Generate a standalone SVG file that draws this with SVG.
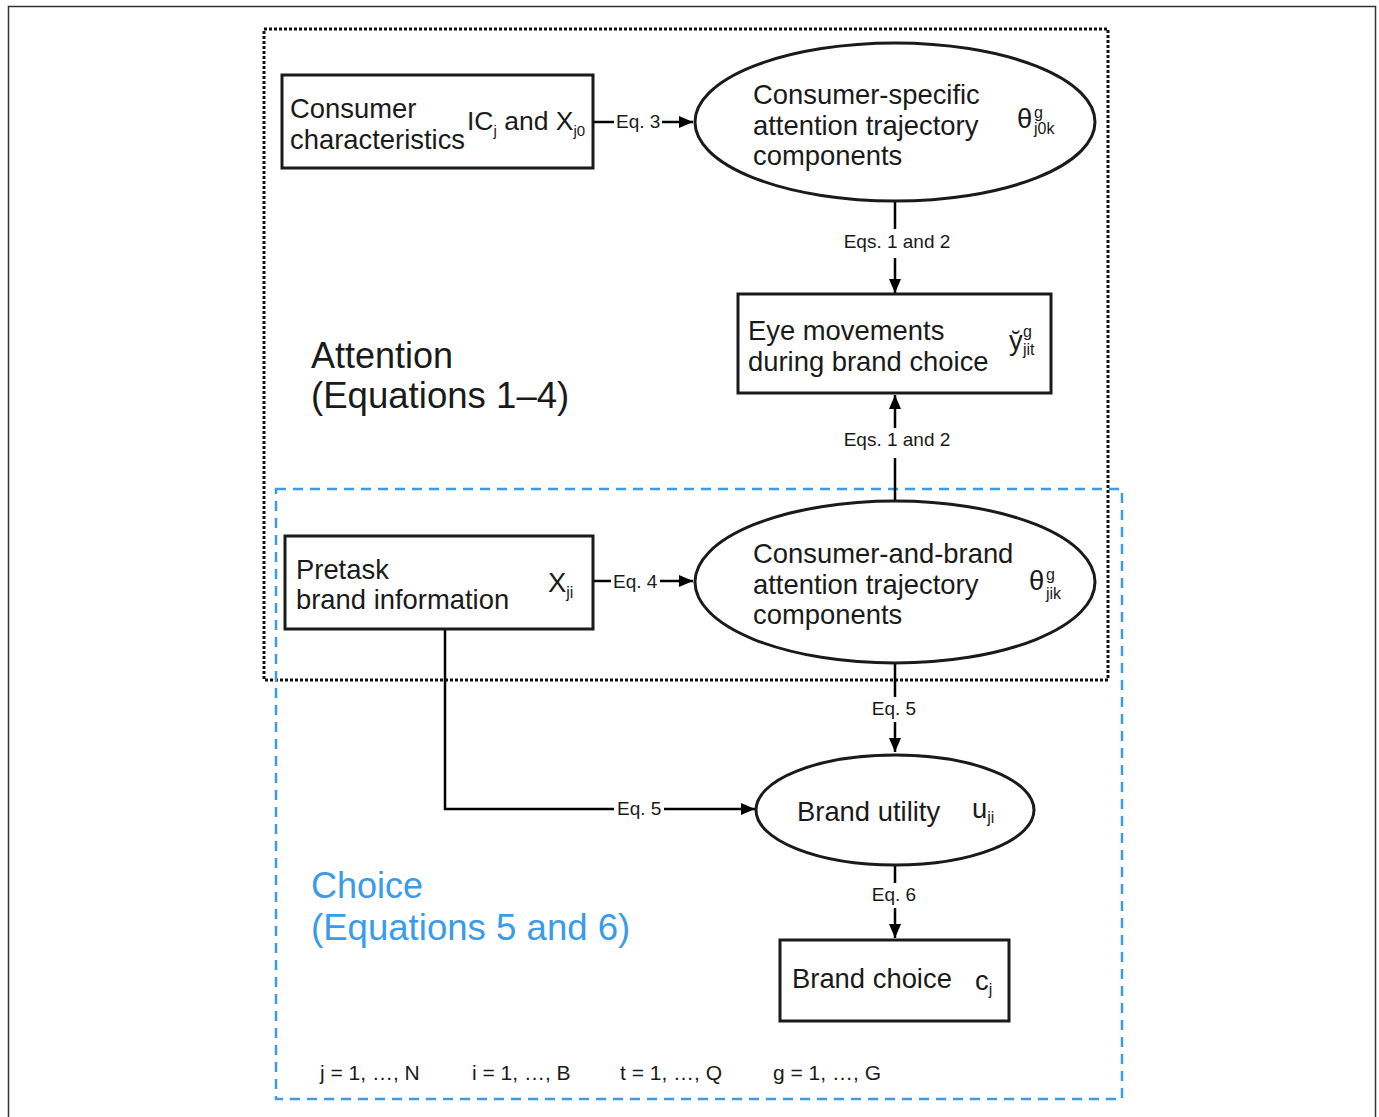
<svg xmlns="http://www.w3.org/2000/svg" width="1379" height="1117" viewBox="0 0 1379 1117">
<style>
text{font-family:"Liberation Sans",Arial,sans-serif;fill:#1a1a1a}
.n{font-size:27.4px}
.sub{font-size:16px}
.eq{font-size:19px}
.node{fill:#fff;stroke:#1a1a1a;stroke-width:3}
.conn{fill:none;stroke:#000;stroke-width:2.5}
.blue{fill:#3a9be9}
</style>
<defs>
<marker id="ah" viewBox="0 0 14 12" refX="14" refY="6" markerWidth="14" markerHeight="12" markerUnits="userSpaceOnUse" orient="auto">
<path d="M0,0 L14,6 L0,12 z" fill="#000"/>
</marker>
</defs>
<rect x="0" y="0" width="1379" height="1117" fill="#fff"/>
<rect id="frame" x="8.5" y="6.5" width="1367" height="1130" fill="none" stroke="#333" stroke-width="1.5"/>
<rect id="attention-region" x="264" y="29" width="844" height="651" fill="none" stroke="#111" stroke-width="3" stroke-dasharray="3 2"/>
<rect id="choice-region" x="276" y="489" width="846" height="610" fill="none" stroke="#3a9be9" stroke-width="2.5" stroke-dasharray="10 7"/>

<g id="connectors">
<path class="conn" d="M593,122 H614 M662,122 H693" marker-end="url(#ah)"/>
<text class="eq" x="616" y="128">Eq. 3</text>
<path class="conn" d="M895,202 V229 M895,258 V293" marker-end="url(#ah)"/>
<text class="eq" x="897" y="248" text-anchor="middle">Eqs. 1 and 2</text>
<path class="conn" d="M895,500 V458 M895,428 V395" marker-end="url(#ah)"/>
<text class="eq" x="897" y="446" text-anchor="middle">Eqs. 1 and 2</text>
<path class="conn" d="M593,581 H611 M660,581 H693" marker-end="url(#ah)"/>
<text class="eq" x="613" y="588">Eq. 4</text>
<path class="conn" d="M895,663 V697 M895,722 V752" marker-end="url(#ah)"/>
<text class="eq" x="894" y="715" text-anchor="middle">Eq. 5</text>
<path class="conn" d="M445,629 V809 H614 M664,809 H755" marker-end="url(#ah)"/>
<text class="eq" x="617" y="815">Eq. 5</text>
<path class="conn" d="M895,865 V883 M895,908 V938" marker-end="url(#ah)"/>
<text class="eq" x="894" y="901" text-anchor="middle">Eq. 6</text>
</g>

<g id="consumer-characteristics">
<rect class="node" x="282" y="75" width="311" height="93"/>
<text class="n" x="290" y="118">Consumer</text>
<text class="n" x="290" y="149">characteristics</text>
<text x="467" y="130" font-size="26.5">IC<tspan font-size="15" dy="6">j</tspan><tspan dy="-6"> and X</tspan><tspan font-size="15" dy="6">j0</tspan></text>
</g>

<g id="consumer-specific">
<ellipse class="node" cx="895" cy="122" rx="200" ry="79"/>
<text class="n" x="753" y="104">Consumer-specific</text>
<text class="n" x="753" y="135">attention trajectory</text>
<text class="n" x="753" y="165">components</text>
<text class="n" x="1017" y="128">θ</text>
<text class="sub" x="1034" y="118">g</text>
<text class="sub" x="1034" y="134">j0k</text>
</g>

<g id="eye-movements">
<rect class="node" x="738" y="294" width="313" height="99"/>
<text class="n" x="748" y="340">Eye movements</text>
<text class="n" x="748" y="371">during brand choice</text>
<text class="n" x="1009" y="350">y̆</text>
<text class="sub" x="1023" y="337">g</text>
<text class="sub" x="1023" y="355">jit</text>
</g>

<g id="attention-label">
<text x="311" y="368" font-size="36">Attention</text>
<text x="311" y="408" font-size="36.6">(Equations 1–4)</text>
</g>

<g id="pretask">
<rect class="node" x="285" y="536" width="308" height="93"/>
<text class="n" x="296" y="579">Pretask</text>
<text class="n" x="296" y="609">brand information</text>
<text class="n" x="548" y="592">X<tspan class="sub" dy="6">ji</tspan></text>
</g>

<g id="consumer-and-brand">
<ellipse class="node" cx="895" cy="582" rx="200" ry="81"/>
<text class="n" x="753" y="563">Consumer-and-brand</text>
<text class="n" x="753" y="594">attention trajectory</text>
<text class="n" x="753" y="624">components</text>
<text class="n" x="1029" y="590">θ</text>
<text class="sub" x="1046" y="580">g</text>
<text class="sub" x="1046" y="599">jik</text>
</g>

<g id="brand-utility">
<ellipse class="node" cx="895" cy="810" rx="139" ry="55"/>
<text class="n" x="797" y="821">Brand utility</text>
<text class="n" x="972" y="818">u<tspan class="sub" dy="5">ji</tspan></text>
</g>

<g id="brand-choice">
<rect class="node" x="780" y="940" width="229" height="81"/>
<text class="n" x="792" y="988">Brand choice</text>
<text class="n" x="975" y="990">c<tspan class="sub" dy="5">j</tspan></text>
</g>

<g id="choice-label">
<text class="blue" x="311" y="898" font-size="36">Choice</text>
<text class="blue" x="311" y="940" font-size="36.6">(Equations 5 and 6)</text>
</g>

<g id="indices">
<text x="320" y="1080" font-size="21">j = 1, …, N</text>
<text x="472" y="1080" font-size="21">i = 1, …, B</text>
<text x="620" y="1080" font-size="21">t = 1, …, Q</text>
<text x="773" y="1080" font-size="21">g = 1, …, G</text>
</g>
</svg>
